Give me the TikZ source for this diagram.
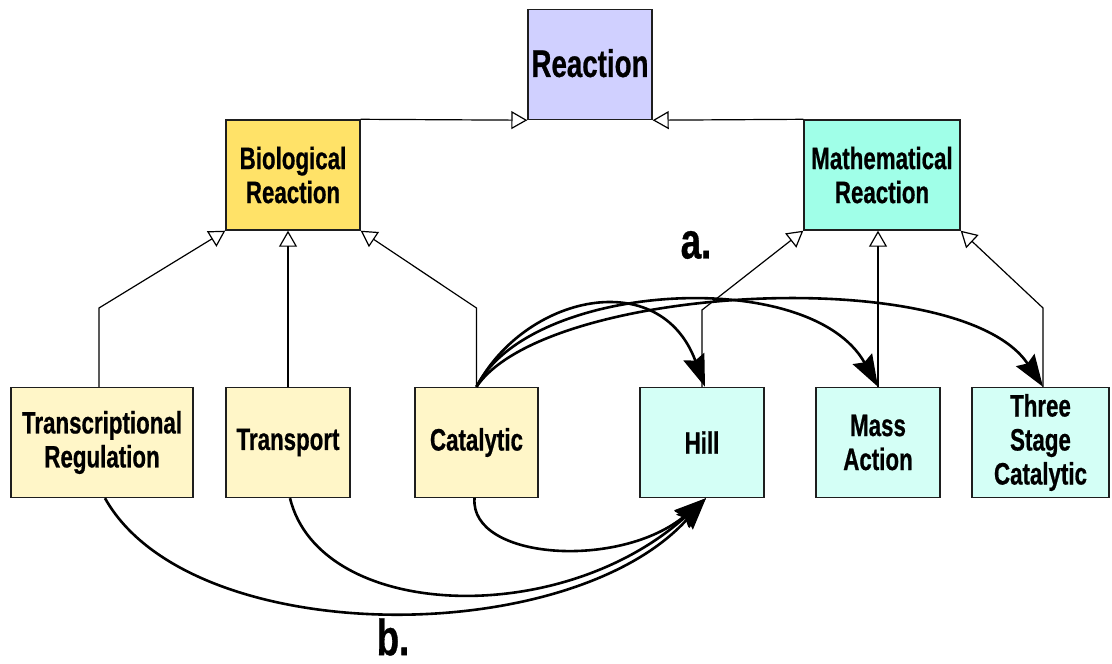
\documentclass[tikz,border=0pt]{standalone}
\usepackage{fontspec}
\setmainfont{Liberation Sans}[FakeStretch=0.72, BoldFeatures={FakeBold=0.6}]
\usetikzlibrary{arrows.meta}
\definecolor{reacfill}{RGB}{208,208,255}
\definecolor{biofill}{RGB}{255,226,104}
\definecolor{mathfill}{RGB}{160,255,232}
\definecolor{biosub}{RGB}{255,246,200}
\definecolor{mathsub}{RGB}{212,255,246}
\definecolor{edge}{RGB}{30,30,30}
\tikzset{
  box/.style={draw=edge, line width=1.4pt, rectangle, align=center, inner sep=0pt,
    minimum width=124pt, minimum height=110pt,
    font=\bfseries\fontsize{31}{34}\selectfont},
  inh/.style={line width=1.2pt, -{Triangle[open,length=16pt,width=18pt,line width=1.2pt]}},
  assoc/.style={line width=2.6pt, -{Stealth[length=32pt,width=22pt,inset=4pt]}},
  tag/.style={font=\bfseries\fontsize{51}{51}\selectfont, inner sep=0pt}
}
\begin{document}
\begin{tikzpicture}[x=1pt,y=-1pt]
\useasboundingbox (0,0) rectangle (1112,664);

% class boxes
\node[box, fill=reacfill, font=\bfseries\fontsize{38.5}{40}\selectfont] (reac) at (590,64.5) {\raisebox{3pt}{Reaction}};
\node[box, fill=biofill, minimum width=134pt] (bio) at (293,175) {Biological\\Reaction};
\node[box, fill=mathfill, minimum width=156pt] (math) at (882,175) {Mathematical\\Reaction};

\node[box, fill=biosub, minimum width=182pt] (tr) at (102,442.5) {Transcriptional\\Regulation};
\node[box, fill=biosub] (trans) at (288,442.5) {Transport};
\node[box, fill=biosub, minimum width=123pt] (cat) at (476.5,442.5) {Catalytic};

\node[box, fill=mathsub] (hill) at (702,442.5) {Hill};
\node[box, fill=mathsub] (mass) at (878,442.5) {Mass\\Action};
\node[box, fill=mathsub, minimum width=137pt] (three) at (1040.5,442.5) {Three\\Stage\\Catalytic};

% inheritance
\draw[inh] (bio.north east) -- (reac.south west);
\draw[inh] (math.north west) -- (reac.south east);

\draw[inh] ([xshift=-3pt]tr.north) -- ([xshift=-3pt]tr.north |- 0,308) -- (bio.south west);
\draw[inh] (trans.north) -- (trans.north |- bio.south);
\draw[inh] (cat.north) -- (cat.north |- 0,308) -- (bio.south east);

\draw[inh] (hill.north) -- (hill.north |- 0,310) -- (math.south west);
\draw[inh] (mass.north) -- (mass.north |- math.south);
\draw[inh] ([xshift=2.5pt]three.north) -- ([xshift=2.5pt]three.north |- 0,308) -- (math.south east);

% associations from Catalytic to the mathematical forms
\draw[assoc] (cat.north) .. controls (525,295) and (660,265) .. ([xshift=3pt]hill.north);
\draw[assoc] (cat.north) .. controls (530,282) and (810,265) .. (mass.north);
\draw[assoc] (cat.north) .. controls (545,285) and (960,262) .. ([xshift=2.5pt]three.north);

% associations from the biological kinds to Hill
\draw[assoc] ([xshift=3pt]tr.south) .. controls (190,650) and (570,650) .. ([xshift=4pt]hill.south);
\draw[assoc] ([xshift=2pt]trans.south) .. controls (320,620) and (560,630) .. ([xshift=4pt]hill.south);
\draw[assoc] ([xshift=-2pt]cat.south) .. controls (470,560) and (620,570) .. ([xshift=4pt]hill.south);

% labels
\node[tag] (la) at (696,245) {a.};
\node[tag] (lb) at (393,637) {b.};
\end{tikzpicture}
\end{document}
